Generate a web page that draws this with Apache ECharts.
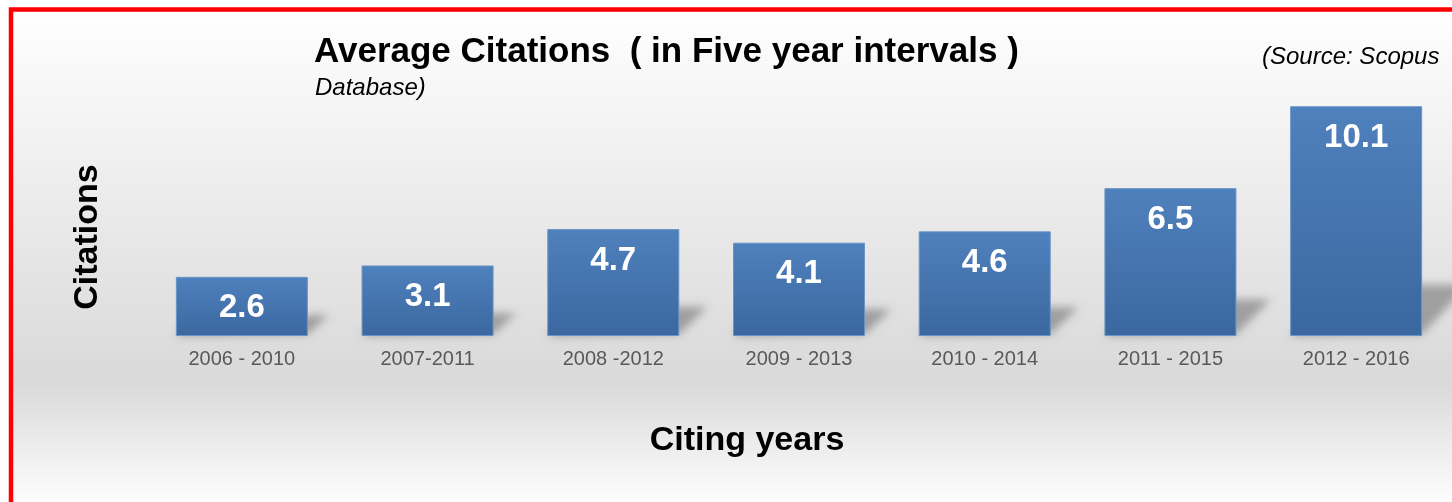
<!DOCTYPE html>
<html>
<head>
<meta charset="utf-8">
<title>Average Citations</title>
<script src="https://cdn.jsdelivr.net/npm/echarts@6/dist/echarts.min.js"></script>
<style>
  html, body { margin: 0; padding: 0; background: #ffffff; }
  #chart { width: 1452px; height: 502px; }
</style>
</head>
<body>
<div id="chart"></div>
<script>
// citing-year windows and their average citations
const periods = ['2006 - 2010', '2007-2011', '2008 -2012', '2009 - 2013', '2010 - 2014', '2011 - 2015', '2012 - 2016'];
const avgCitations = [2.6, 3.1, 4.7, 4.1, 4.6, 6.5, 10.1];

const font = '"Liberation Sans", Arial, sans-serif';
const barW = 132;
const away = 3000; // shadow shape is drawn off-screen, only its blur is shifted back in

const myChart = echarts.init(document.getElementById('chart'));

const options = {
  backgroundColor: '#ffffff',
  animation: false,
  title: [
    {
      text: 'Average Citations  ( in Five year intervals )',
      left: 309,
      top: 30,
      textStyle: { fontFamily: font, fontSize: 35, fontWeight: 'bold', color: '#000000' }
    },
    {
      text: '(Source: Scopus',
      left: 1257,
      top: 40,
      textStyle: { fontFamily: font, fontSize: 24, fontStyle: 'italic', fontWeight: 'normal', color: '#000000' }
    },
    {
      text: 'Database)',
      left: 310,
      top: 71,
      textStyle: { fontFamily: font, fontSize: 24, fontStyle: 'italic', fontWeight: 'normal', color: '#000000' }
    }
  ],
  graphic: [
    {
      // red frame + grey gradient backdrop
      type: 'rect',
      z: -10,
      shape: { x: 11, y: 9.5, width: 1446, height: 497 },
      style: {
        fill: new echarts.graphic.LinearGradient(0, 0, 0, 1, [
          { offset: 0, color: '#ffffff' },
          { offset: 0.745, color: '#d9d9d9' },
          { offset: 1, color: '#ffffff' }
        ]),
        stroke: '#ff0000',
        lineWidth: 4.5
      }
    },
    {
      type: 'text',
      x: 88,
      y: 237,
      rotation: Math.PI / 2,
      style: {
        text: 'Citations',
        font: 'bold 34px ' + font,
        fill: '#000000',
        align: 'center',
        verticalAlign: 'middle'
      }
    },
    {
      type: 'text',
      x: 747,
      y: 441,
      style: {
        text: 'Citing years',
        font: 'bold 34px ' + font,
        fill: '#000000',
        align: 'center',
        verticalAlign: 'middle'
      }
    }
  ],
  grid: {
    left: 149,
    width: 1300,
    top: 63,
    bottom: 166
  },
  xAxis: {
    type: 'category',
    data: periods,
    axisLine: { show: false },
    axisTick: { show: false },
    axisLabel: {
      margin: 13,
      fontFamily: font,
      fontSize: 20,
      color: '#595959'
    }
  },
  yAxis: {
    type: 'value',
    min: 0,
    max: 12,
    show: false,
    splitLine: { show: false }
  },
  series: [
    {
      // soft floor shadow behind each bar
      type: 'custom',
      z: 1,
      silent: true,
      clip: false,
      data: avgCitations.map(function (v, i) { return [i, v]; }),
      renderItem: function (params, api) {
        const top = api.coord([api.value(0), api.value(1)]);
        const base = api.coord([api.value(0), 0]);
        const h = base[1] - top[1];
        const xl = base[0] - barW / 2 - away;
        const xr = base[0] + barW / 2 - away;
        const dx = 12 + 0.15 * h;
        const dy = 10 + 0.18 * h;
        return {
          type: 'polygon',
          shape: {
            points: [[xl, base[1]], [xr, base[1] - 2], [xr + dx, base[1] - dy], [xl + dx, base[1] - dy]]
          },
          style: {
            fill: 'rgba(0,0,0,0.32)',
            shadowBlur: 9,
            shadowOffsetX: away,
            shadowOffsetY: 0,
            shadowColor: 'rgba(0,0,0,0.9)'
          }
        };
      }
    },
    {
      type: 'bar',
      z: 3,
      data: avgCitations,
      barWidth: barW,
      itemStyle: {
        color: new echarts.graphic.LinearGradient(0, 0, 0, 1, [
          { offset: 0, color: '#4f81bd' },
          { offset: 1, color: '#3b679f' }
        ]),
        borderColor: '#6a94c8',
        borderWidth: 1
      },
      label: {
        show: true,
        position: 'insideTop',
        distance: 15,
        fontFamily: font,
        fontSize: 33,
        fontWeight: 'bold',
        color: '#ffffff'
      }
    }
  ]
};

myChart.setOption(options);
</script>
</body>
</html>
